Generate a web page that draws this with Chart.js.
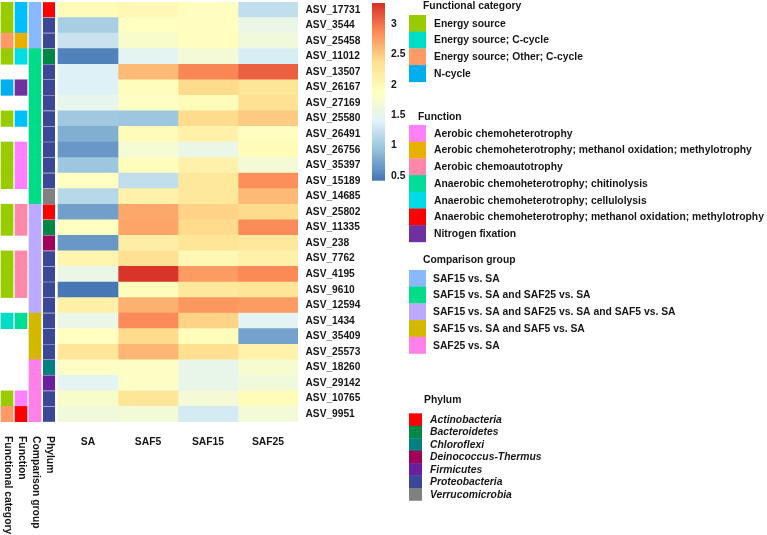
<!DOCTYPE html>
<html>
<head>
<meta charset="utf-8">
<script src="https://cdn.jsdelivr.net/npm/chart.js@4.4.1/dist/chart.umd.min.js"></script>
<style>
  html, body { margin: 0; padding: 0; background: #fff; }
  #wrap { width: 767px; height: 535px; position: relative; }
</style>
</head>
<body>
<div id="wrap"><canvas id="heat"></canvas></div>
<script>
// rows, top to bottom
const asvLabels = ['ASV_17731', 'ASV_3544', 'ASV_25458', 'ASV_11012', 'ASV_13507', 'ASV_26167', 'ASV_27169',
  'ASV_25580', 'ASV_26491', 'ASV_26756', 'ASV_35397', 'ASV_15189', 'ASV_14685', 'ASV_25802', 'ASV_11335',
  'ASV_238', 'ASV_7762', 'ASV_4195', 'ASV_9610', 'ASV_12594', 'ASV_1434', 'ASV_35409', 'ASV_25573',
  'ASV_18260', 'ASV_29142', 'ASV_10765', 'ASV_9951'];
const sampleNames = ['SA', 'SAF5', 'SAF15', 'SAF25'];

// heatmap values, one array per sample
const saValues = [1.95, 1.05, 1.25, 0.5, 1.38, 1.38, 1.5, 1.0, 0.8, 0.65, 0.98, 1.87, 1.14, 0.7, 1.88,
  0.65, 2.05, 1.55, 0.43, 2.12, 1.55, 1.88, 2.3, 1.83, 1.45, 1.78, 1.65];
const saf5Values = [2.0, 1.87, 1.78, 1.45, 2.6, 1.92, 1.85, 0.98, 1.95, 1.72, 1.92, 1.2, 2.1, 2.7, 2.72,
  2.15, 2.35, 3.33, 1.92, 2.65, 2.87, 2.4, 2.62, 1.83, 1.83, 2.28, 1.68];
const saf15Values = [1.9, 1.9, 1.9, 1.7, 2.9, 2.4, 1.95, 2.4, 2.1, 1.55, 2.1, 2.25, 2.25, 2.45, 2.4,
  2.3, 2.0, 2.78, 2.25, 2.8, 2.45, 1.92, 2.37, 1.52, 1.52, 1.7, 1.32];
const saf25Values = [1.2, 1.55, 1.65, 1.35, 3.1, 2.28, 2.35, 2.5, 1.9, 1.95, 1.7, 2.85, 2.6, 2.4, 2.87,
  2.25, 2.1, 2.88, 2.3, 2.78, 1.45, 0.72, 2.08, 1.75, 1.65, 1.95, 1.68];

// colour bar
const colorMin = 0.42;
const colorMax = 3.35;
const colorTicks = [0.5, 1, 1.5, 2, 2.5, 3];
const rampColors = ['#4575B4', '#91BFDB', '#E0F3F8', '#FFFFBF', '#FEE090', '#FC8D59', '#D73027'];

// annotation legends
const fcNames = ['Energy source', 'Energy source; C-cycle', 'Energy source; Other; C-cycle', 'N-cycle'];
const fcColors = ['#99CC00', '#00DDC6', '#FF9966', '#00AEEF'];
const fnNames = ['Aerobic chemoheterotrophy', 'Aerobic chemoheterotrophy; methanol oxidation; methylotrophy',
  'Aerobic chemoautotrophy', 'Anaerobic chemoheterotrophy; chitinolysis', 'Anaerobic chemoheterotrophy; cellulolysis',
  'Anaerobic chemoheterotrophy; methanol oxidation; methylotrophy', 'Nitrogen fixation'];
// last colour is used in the column but has no legend entry
const fnColors = ['#FF80FF', '#E8B000', '#FF88AA', '#00DD99', '#00DDE6', '#FF0000', '#7030A0', '#00BFFF'];
const cgNames = ['SAF15 vs. SA', 'SAF15 vs. SA and SAF25 vs. SA', 'SAF15 vs. SA and SAF25 vs. SA and SAF5 vs. SA',
  'SAF15 vs. SA and SAF5 vs. SA', 'SAF25 vs. SA'];
const cgColors = ['#88B8FF', '#00DD88', '#BBAAFF', '#D4B800', '#FF80E8'];
const phylumNames = ['Actinobacteria', 'Bacteroidetes', 'Chloroflexi', 'Deinococcus-Thermus', 'Firmicutes',
  'Proteobacteria', 'Verrucomicrobia'];
const phylumColors = ['#FF0000', '#008844', '#008080', '#A0005A', '#6A1FA0', '#3A4896', '#808080'];

// row annotations (index into the lists above, null = blank)
const rowFunctionalCategory = [0, 0, 2, 0, null, 3, null, 0, null, 0, 0, 0, null, 0, 0, null, 0, 0, 0, null, 1,
  null, null, null, null, 0, 2];
const rowFunction = [7, 7, 1, 4, null, 6, null, 7, null, 0, 0, 0, null, 2, 2, null, 2, 2, 2, null, 3,
  null, null, null, null, 0, 5];
const rowComparison = [0, 0, 0, 1, 1, 1, 1, 1, 1, 1, 1, 1, 1, 2, 2, 2, 2, 2, 2, 2, 3, 3, 3, 4, 4, 4, 4];
const rowPhylum = [0, 5, 5, 1, 5, 5, 5, 5, 5, 5, 5, 5, 6, 0, 1, 3, 5, 5, 5, 5, 5, 5, 5, 2, 4, 5, 5];

const FONT = '"Liberation Sans", Arial, sans-serif';
const TEXT = '#161616';
const FS = 10.35;

function hexRgb(h) {
  return [parseInt(h.slice(1, 3), 16), parseInt(h.slice(3, 5), 16), parseInt(h.slice(5, 7), 16)];
}

function valueColor(v) {
  let t = (v - colorMin) / (colorMax - colorMin);
  t = Math.max(0, Math.min(1, t));
  const pos = t * (rampColors.length - 1);
  const i = Math.min(Math.floor(pos), rampColors.length - 2);
  const f = pos - i;
  const a = hexRgb(rampColors[i]), b = hexRgb(rampColors[i + 1]);
  const c = a.map((x, k) => Math.round(x + (b[k] - x) * f));
  return `rgb(${c[0]},${c[1]},${c[2]})`;
}

// annotation strips, in heatmap column units (one column = 1)
const annotationCols = [
  { name: 'Functional category', rows: rowFunctionalCategory, colors: fcColors, x: [-0.95, -0.75] },
  { name: 'Function', rows: rowFunction, colors: fnColors, x: [-0.7167, -0.5167] },
  { name: 'Comparison group', rows: rowComparison, colors: cgColors, x: [-0.4833, -0.2833] },
  { name: 'Phylum', rows: rowPhylum, colors: phylumColors, x: [-0.25, -0.05], sep: true },
];

const sampleValues = [saValues, saf5Values, saf15Values, saf25Values];

const datasets = [];
sampleValues.forEach((vals, c) => {
  datasets.push({
    label: sampleNames[c],
    data: vals.map(() => [c, c + 1]),
    backgroundColor: vals.map(valueColor),
    borderWidth: 0,
  });
});
annotationCols.forEach((col) => {
  datasets.push({
    label: col.name,
    data: col.rows.map((k) => (k === null ? null : col.x)),
    backgroundColor: col.rows.map((k) => (k === null ? 'rgba(0,0,0,0)' : col.colors[k])),
    borderSkipped: false,
    borderWidth: col.sep ? { top: 0.6, bottom: 0.6, left: 0, right: 0 } : 0,
    borderColor: '#c4c4d4',
  });
});

const legendGroups = [
  { title: 'Functional category', names: fcNames, colors: fcColors, titleX: 423, titleY: 6, top: 15, step: 16.7, sw: 17, textX: 434 },
  { title: 'Function', names: fnNames, colors: fnColors, titleX: 418, titleY: 117, top: 125, step: 16.7, sw: 17, textX: 434 },
  { title: 'Comparison group', names: cgNames, colors: cgColors, titleX: 423, titleY: 260, top: 270, step: 16.7, sw: 17, textX: 433 },
  { title: 'Phylum', names: phylumNames, colors: phylumColors, titleX: 424, titleY: 400, top: 413.3, step: 12.45, sw: 13, textX: 430, italic: true },
];

const extrasPlugin = {
  id: 'extras',
  afterDraw(chart) {
    const ctx = chart.ctx;
    const xs = chart.scales.x;
    ctx.save();
    ctx.fillStyle = TEXT;

    // rotated annotation names under the strips
    ctx.font = `bold ${FS}px ${FONT}`;
    ctx.textAlign = 'left';
    ctx.textBaseline = 'middle';
    annotationCols.forEach((col) => {
      const cx = xs.getPixelForValue((col.x[0] + col.x[1]) / 2);
      ctx.save();
      ctx.translate(cx + 0.5, 436);
      ctx.rotate(Math.PI / 2);
      ctx.fillText(col.name, 0, 0);
      ctx.restore();
    });

    // colour bar
    const bx = 372, bw = 13, bTop = 3, bBot = 180.7;
    const grad = ctx.createLinearGradient(0, bBot, 0, bTop);
    rampColors.forEach((c, i) => grad.addColorStop(i / (rampColors.length - 1), c));
    ctx.fillStyle = grad;
    ctx.fillRect(bx, bTop, bw, bBot - bTop);
    ctx.fillStyle = TEXT;
    ctx.textAlign = 'left';
    colorTicks.forEach((v) => {
      const y = bBot - (v - colorMin) / (colorMax - colorMin) * (bBot - bTop);
      ctx.fillText(String(v), 391, y);
    });

    // annotation legends
    legendGroups.forEach((g) => {
      ctx.font = `bold ${FS}px ${FONT}`;
      ctx.fillStyle = TEXT;
      ctx.fillText(g.title, g.titleX, g.titleY);
      g.names.forEach((n, i) => {
        const y = g.top + i * g.step;
        ctx.fillStyle = g.colors[i];
        ctx.fillRect(409, y, g.sw, g.step + 0.3);
        ctx.fillStyle = TEXT;
        ctx.font = `${g.italic ? 'italic ' : ''}bold ${FS}px ${FONT}`;
        ctx.fillText(n, g.textX, y + g.step / 2 + 0.5);
      });
    });
    ctx.restore();
  },
};

function noPadding(s) {
  s.paddingTop = 0;
  s.paddingBottom = 0;
  s.paddingLeft = 0;
  s.paddingRight = 0;
}

new Chart(document.getElementById('heat'), {
  type: 'bar',
  data: { labels: asvLabels, datasets },
  options: {
    indexAxis: 'y',
    responsive: true,
    maintainAspectRatio: false,
    animation: false,
    layout: { padding: { top: 2, left: 0, right: 0, bottom: 0 } },
    datasets: { bar: { barPercentage: 1, categoryPercentage: 1, grouped: false } },
    plugins: { legend: { display: false }, tooltip: { enabled: false } },
    scales: {
      x: {
        type: 'linear',
        min: -58 / 60,
        max: 4,
        grid: { display: false, drawTicks: false },
        border: { display: false },
        afterBuildTicks: (s) => { s.ticks = sampleNames.map((n, i) => ({ value: i + 0.5 })); },
        afterFit: (s) => { s.height = 113; noPadding(s); },
        ticks: {
          autoSkip: false,
          maxRotation: 0,
          padding: 14,
          color: TEXT,
          font: { family: FONT, size: FS, weight: 'bold' },
          callback: (v, i) => sampleNames[i],
        },
      },
      y: {
        type: 'category',
        position: 'right',
        grid: { display: false, drawTicks: false },
        border: { display: false },
        afterFit: (s) => { s.width = 767 - 298; noPadding(s); },
        ticks: {
          autoSkip: false,
          padding: 7.5,
          color: TEXT,
          font: { family: FONT, size: 10.2, weight: 'bold' },
        },
      },
    },
  },
  plugins: [extrasPlugin],
});
</script>
</body>
</html>
